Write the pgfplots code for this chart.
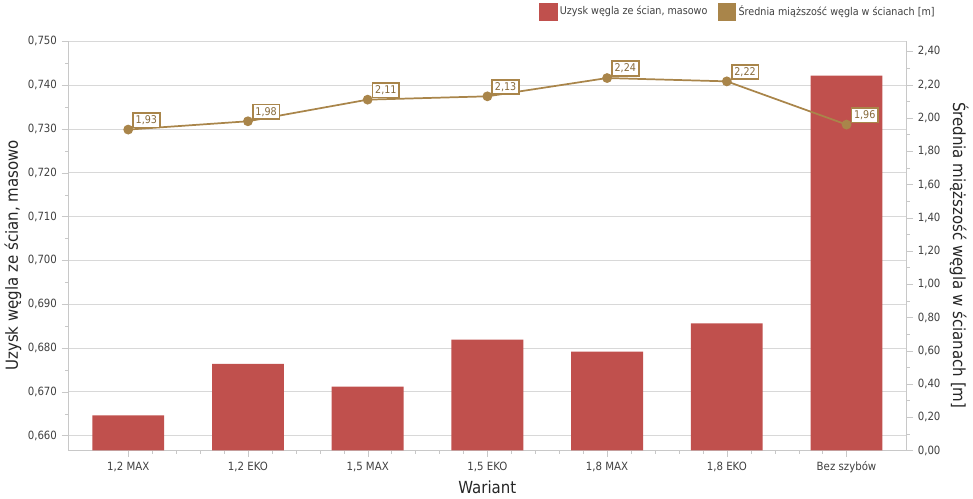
\documentclass[border=0pt]{standalone}
\usepackage{pgfplots}
\pgfplotsset{compat=1.18}
\usepackage{fontspec}
\setmainfont{DejaVu Sans Condensed}
\definecolor{barred}{HTML}{C0504D}
\definecolor{linebr}{HTML}{A9854A}
\definecolor{axgray}{HTML}{C8C8C8}
\definecolor{txtgray}{HTML}{404040}
\begin{document}
\begin{tikzpicture}
\pgfplotsset{
  every axis/.append style={
    scale only axis, width=628.5pt, height=306.75pt,
    xmin=-0.5, xmax=6.5,
    axis line style={axgray},
    tick style={axgray},
    tick label style={font=\fontsize{8.5}{10}\selectfont, text=txtgray},
    label style={font=\fontsize{12.5}{14}\selectfont, text=black!85},
    /pgf/number format/assume math mode=true,
    /pgf/number format/use comma,
    /pgf/number format/fixed,
    /pgf/number format/fixed zerofill,
  },
}
\begin{axis}[
  axis y line*=left, axis x line*=bottom,
  ymin=0.6566, ymax=0.750,
  ytick={0.66,0.67,0.68,0.69,0.70,0.71,0.72,0.73,0.74,0.75},
  yticklabel style={/pgf/number format/precision=3},
  minor y tick num=1,
  ymajorgrids, grid style={axgray!70, line width=0.6pt},
  xtick={0,...,6},
  xticklabels={{1,2 MAX}, {1,2 EKO}, {1,5 MAX}, {1,5 EKO}, {1,8 MAX}, {1,8 EKO}, {Bez szybów}},
  minor x tick num=4,
  tick align=outside,
  major tick length=5pt, minor tick length=2.5pt,
  ylabel={Uzysk węgla ze ścian, masowo},
  xlabel={Wariant},
  ylabel style={yshift=-2pt, xshift=-7pt},
  xlabel style={yshift=1pt},
]
\addplot[ybar, bar width=0.6, fill=barred, draw=none] coordinates {
  (0,0.6646) (1,0.6764) (2,0.6712) (3,0.6819) (4,0.6792) (5,0.6856) (6,0.7422)
};
\end{axis}
\begin{axis}[
  axis y line*=right, axis x line=none,
  ymin=0, ymax=2.46,
  ytick={0,0.2,...,2.41},
  yticklabel style={/pgf/number format/precision=2},
  minor y tick num=1,
  tick align=outside,
  major tick length=5pt, minor tick length=2.5pt,
  ylabel={Średnia miąższość węgla w ścianach [m]},
  ylabel style={rotate=180, xshift=7pt},
  legend style={at={(1.042,1.073)}, anchor=east, draw=none, fill=none,
    font=\fontsize{8}{10}\selectfont, text=txtgray,
    legend columns=2, /tikz/every even column/.append style={column sep=6pt}},
]
\addlegendimage{legend image code/.code={\fill[barred] (0pt,-6.5pt) rectangle (13pt,6.5pt);}}
\addlegendentry{Uzysk węgla ze ścian, masowo}
\addlegendimage{legend image code/.code={\fill[linebr] (0pt,-6.5pt) rectangle (13pt,6.5pt);}}
\addlegendentry{Średnia miąższość węgla w ścianach [m]}
\addplot[linebr, line width=1.3pt, mark=*, mark size=3pt,
  mark options={fill=linebr, draw=linebr},
  nodes near coords, point meta=explicit symbolic,
  every node near coord/.append style={anchor=south west, xshift=3pt, yshift=1pt,
    draw=linebr, fill=white, text=linebr!80!black, inner sep=2pt,
    font=\fontsize{8}{9}\selectfont},
  forget plot] coordinates {
  (0,1.93) [1,93]
  (1,1.98) [1,98]
  (2,2.11) [2,11]
  (3,2.13) [2,13]
  (4,2.24) [2,24]
  (5,2.22) [2,22]
  (6,1.96) [1,96]
};
\end{axis}
\end{tikzpicture}
\end{document}
